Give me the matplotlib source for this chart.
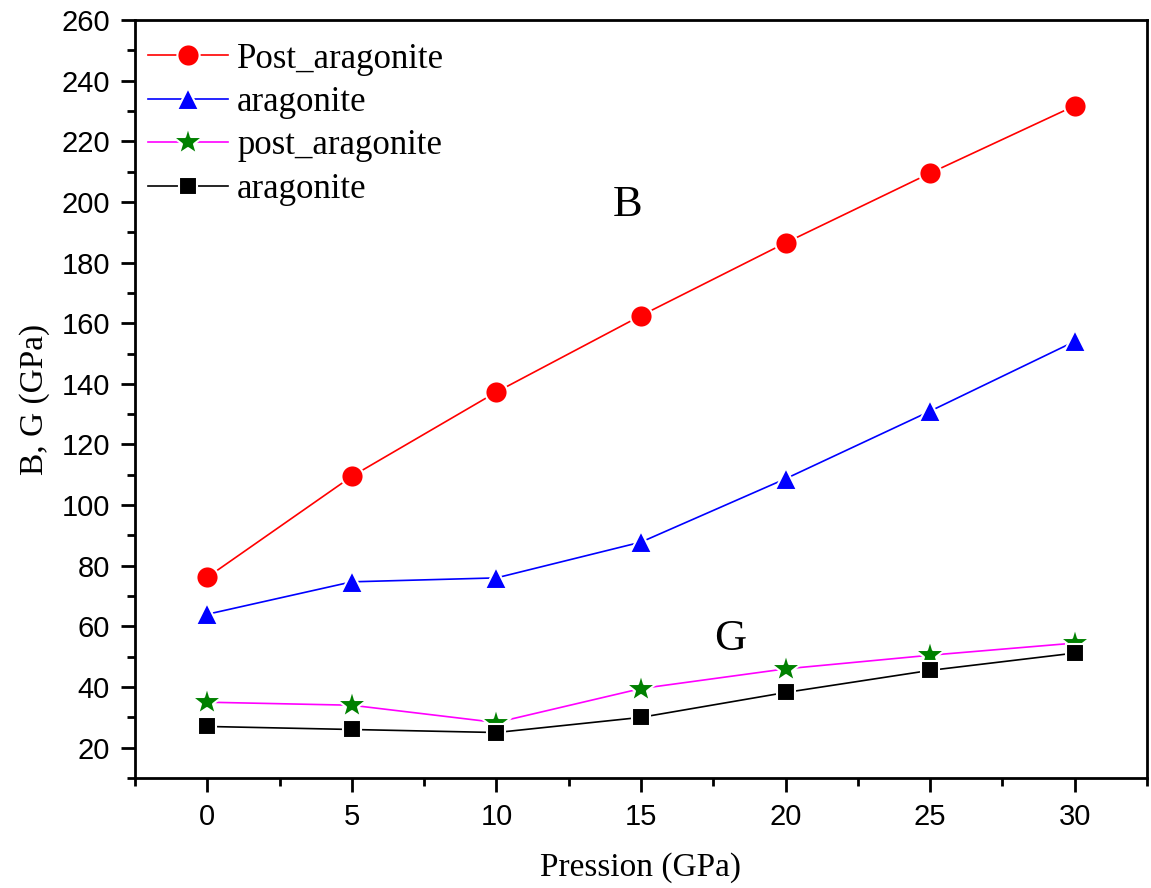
import matplotlib.pyplot as plt
from matplotlib.ticker import MultipleLocator

plt.rcParams['xtick.direction'] = 'out'
plt.rcParams['ytick.direction'] = 'out'

pression = [0, 5, 10, 15, 20, 25, 30]
B_post = [76.2, 109.5, 137.3, 162.5, 186.5, 209.5, 231.7]
B_arag = [64.0, 74.7, 76.0, 87.8, 108.7, 131.0, 154.0]
G_post = [35.0, 34.0, 28.3, 39.5, 46.0, 50.5, 54.5]
G_arag = [27.0, 26.0, 25.0, 30.0, 38.2, 45.5, 51.2]

fig = plt.figure(figsize=(11.51, 8.88), dpi=100)
ax = fig.add_axes([135 / 1151, 1 - 778 / 888, (1147 - 135) / 1151, (778 - 20) / 888])

kw = dict(lw=1.2, mec='white', mew=1.5)
ax.plot(pression, B_post, color='red', marker='o', ms=16, mfc='red', label='Post_aragonite', **kw)
ax.plot(pression, B_arag, color='blue', marker='^', ms=16, mfc='blue', label='aragonite', **kw)
ax.plot(pression, G_post, color='magenta', marker='*', ms=22, mfc='green', label='post_aragonite', **kw)
ax.plot(pression, G_arag, color='black', marker='s', ms=13, mfc='black', label='aragonite', **kw)

ax.set_xlim(-2.5, 32.5)
ax.set_ylim(10, 260)
ax.xaxis.set_major_locator(MultipleLocator(5))
ax.xaxis.set_minor_locator(MultipleLocator(2.5))
ax.yaxis.set_major_locator(MultipleLocator(20))
ax.yaxis.set_minor_locator(MultipleLocator(10))
ax.set_yticks(range(20, 261, 20))
ax.tick_params(which='major', length=10, width=2, labelsize=21, pad=8)
ax.tick_params(which='minor', length=6, width=2)
for lab in ax.get_xticklabels() + ax.get_yticklabels():
    lab.set_family('Liberation Sans')
for sp in ax.spines.values():
    sp.set_linewidth(2)

ax.set_xlabel('Pression (GPa)', family='Liberation Serif', fontsize=24, labelpad=15)
ax.set_ylabel('B, G (GPa)', family='Liberation Serif', fontsize=24, labelpad=8)

ax.text(14.55, 199, 'B', family='Liberation Serif', fontsize=32, ha='center', va='center')
ax.text(18.1, 56, 'G', family='Liberation Serif', fontsize=32, ha='center', va='center')

ax.legend(loc='upper left', bbox_to_anchor=(-0.009, 1.0), frameon=False,
          prop={'family': 'Liberation Serif', 'size': 25},
          handlelength=2.3, handletextpad=0.25, labelspacing=0.3, borderaxespad=0.25)

plt.savefig('out.png', dpi=100)
